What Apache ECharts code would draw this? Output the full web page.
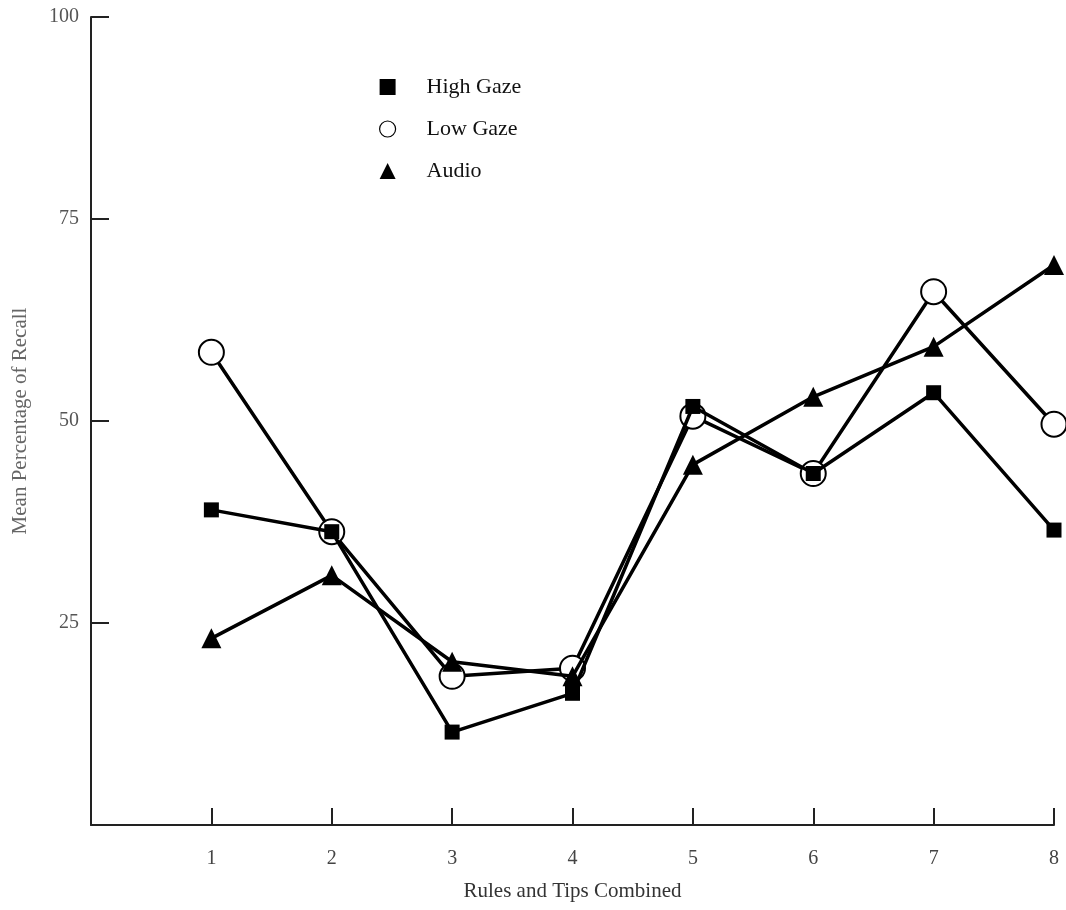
<!DOCTYPE html>
<html>
<head>
<meta charset="utf-8">
<script src="https://cdn.jsdelivr.net/npm/echarts@6/dist/echarts.min.js"></script>
<style>
html,body{margin:0;padding:0;background:#fff;}
#main{width:1066px;height:910px;}
</style>
</head>
<body>
<div id="main"></div>
<script>
const categories = [1, 2, 3, 4, 5, 6, 7, 8];
const highGaze = [39.0, 36.3, 11.5, 16.3, 51.8, 43.5, 53.5, 36.5];
const lowGaze = [58.5, 36.3, 18.4, 19.4, 50.6, 43.5, 66.0, 49.6];
const audio = [23.1, 30.9, 20.2, 18.4, 44.6, 53.0, 59.2, 69.3];
const yTicks = [25, 50, 75, 100];

const pairs = arr => categories.map((c, i) => [c, arr[i]]);
const font = '"Liberation Serif", "DejaVu Serif", serif';

const chart = echarts.init(document.getElementById('main'));
chart.setOption({
  backgroundColor: '#fff',
  animation: false,
  grid: { left: 91, right: 12, top: 17, bottom: 85, containLabel: false, outerBoundsMode: 'none' },
  legend: {
    orient: 'vertical',
    left: 374,
    top: 71,
    itemGap: 20,
    itemWidth: 16,
    itemHeight: 16,
    textStyle: { fontFamily: font, fontSize: 22, color: '#111', padding: [0, 0, 0, 26] },
    data: [
      { name: 'High Gaze', icon: 'rect', itemStyle: { color: '#000', borderWidth: 0 } },
      { name: 'Low Gaze', icon: 'circle', itemStyle: { color: '#fff', borderColor: '#000', borderWidth: 1.2 } },
      { name: 'Audio', icon: 'triangle', itemStyle: { color: '#000', borderWidth: 0 } }
    ]
  },
  xAxis: {
    type: 'value',
    min: 0, max: 8, interval: 1,
    name: 'Rules and Tips Combined',
    nameLocation: 'middle',
    nameGap: 56,
    nameTextStyle: { fontFamily: font, fontSize: 21, color: '#333' },
    axisLine: { lineStyle: { color: '#222', width: 2 } },
    axisTick: { inside: true, length: 17, lineStyle: { color: '#222', width: 2 } },
    axisLabel: {
      margin: 24, fontFamily: font, fontSize: 20, color: '#444',
      formatter: v => (v === 0 ? '' : String(v))
    },
    splitLine: { show: false }
  },
  yAxis: {
    type: 'value',
    min: 0, max: 100, interval: 25,
    name: 'Mean Percentage of Recall',
    nameLocation: 'middle',
    nameGap: 60,
    nameRotate: 90,
    nameTextStyle: { fontFamily: font, fontSize: 21, color: '#666' },
    axisLine: { show: true, lineStyle: { color: '#222', width: 2 } },
    axisTick: { inside: true, length: 18, lineStyle: { color: '#222', width: 2 } },
    axisLabel: {
      margin: 12, fontFamily: font, fontSize: 20, color: '#555',
      formatter: v => (yTicks.indexOf(v) >= 0 ? String(v) : '')
    },
    splitLine: { show: false }
  },
  series: [
    {
      name: 'Low Gaze', type: 'line', z: 2,
      data: pairs(lowGaze),
      symbol: 'emptyCircle', symbolSize: 25,
      lineStyle: { color: '#000', width: 3.5 },
      itemStyle: { color: '#000', borderColor: '#000', borderWidth: 1.3 }
    },
    {
      name: 'High Gaze', type: 'line', z: 3,
      data: pairs(highGaze),
      symbol: 'rect', symbolSize: 15,
      lineStyle: { color: '#000', width: 3.5 },
      itemStyle: { color: '#000' }
    },
    {
      name: 'Audio', type: 'line', z: 4,
      data: pairs(audio),
      symbol: 'triangle', symbolSize: 20,
      lineStyle: { color: '#000', width: 3.5 },
      itemStyle: { color: '#000' }
    }
  ]
});
</script>
</body>
</html>
